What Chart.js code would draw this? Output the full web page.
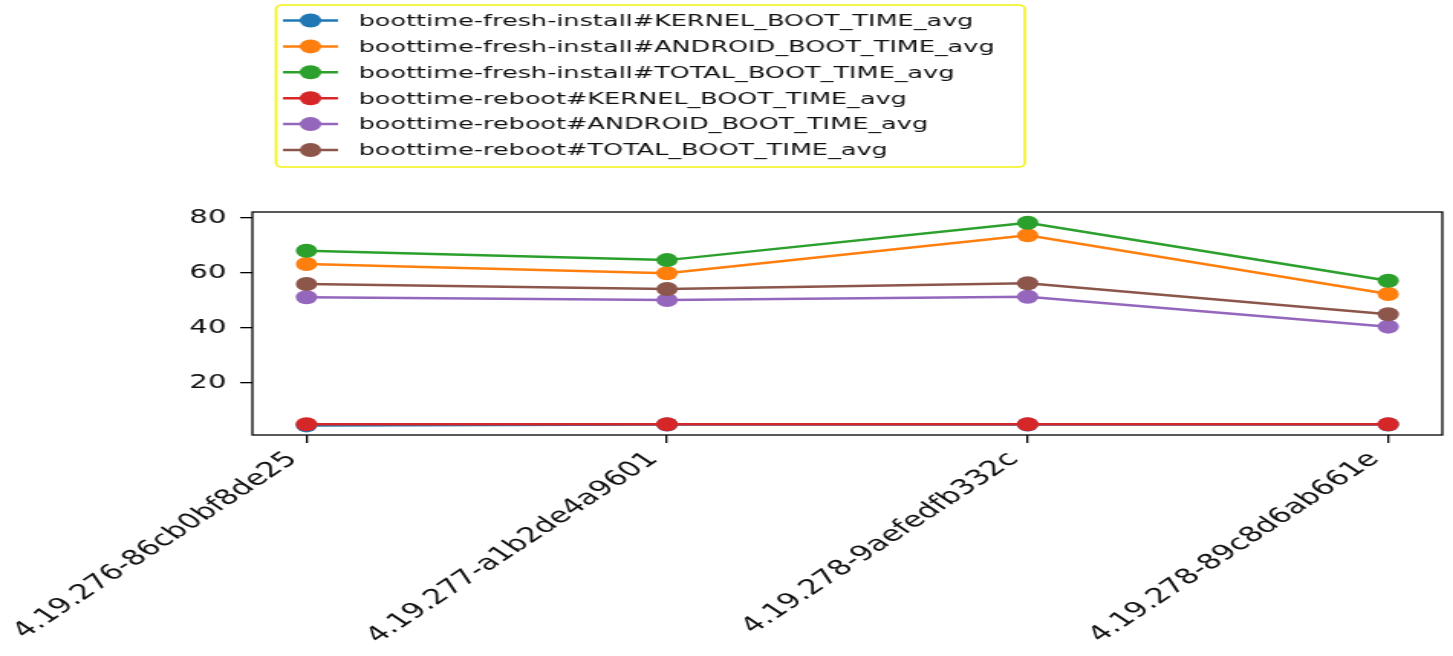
<!DOCTYPE html>
<html>
<head>
<meta charset="utf-8">
<script src="https://cdn.jsdelivr.net/npm/chart.js@4/dist/chart.umd.min.js"></script>
<style>
  html, body { margin: 0; padding: 0; background: #fff; overflow: hidden; }
  /* the reference is stretched sideways, so draw narrow and widen */
  #wrap { width: 950px; height: 656px; transform: scaleX(1.5295); transform-origin: 0 0; }
</style>
</head>
<body>
<div id="wrap"><canvas id="chart"></canvas></div>
<script>
// ============================
// DATA
// ============================
const builds = ["4.19.276-86cb0bf8de25", "4.19.277-a1b2de4a9601", "4.19.278-9aefedfb332c", "4.19.278-89c8d6ab661e"];

const seriesNames = [
  "boottime-fresh-install#KERNEL_BOOT_TIME_avg",
  "boottime-fresh-install#ANDROID_BOOT_TIME_avg",
  "boottime-fresh-install#TOTAL_BOOT_TIME_avg",
  "boottime-reboot#KERNEL_BOOT_TIME_avg",
  "boottime-reboot#ANDROID_BOOT_TIME_avg",
  "boottime-reboot#TOTAL_BOOT_TIME_avg"
];

const freshKernel  = [4.6, 4.9, 4.9, 4.9];
const freshAndroid = [63.3, 59.9, 73.7, 52.4];
const freshTotal   = [68.1, 64.7, 78.3, 57.2];
const rebootKernel = [5.0, 5.0, 5.0, 5.0];
const rebootAndroid = [51.2, 50.2, 51.4, 40.5];
const rebootTotal  = [56.0, 54.2, 56.3, 45.0];

const yTicks = [20, 40, 60, 80];

const colors = ["#1f77b4", "#ff7f0e", "#2ca02c", "#d62728", "#9467bd", "#8c564b"];
const allSeries = [freshKernel, freshAndroid, freshTotal, rebootKernel, rebootAndroid, rebootTotal];

const FONT = "'DejaVu Sans', sans-serif";

// ============================
// PLUGINS
// ============================
// full box round the plot like matplotlib
const frame = {
  id: "frame",
  afterDraw(chart){
    const {ctx, chartArea: a} = chart;
    ctx.save();
    ctx.strokeStyle = "#000";
    ctx.lineWidth = 1.3;
    ctx.strokeRect(a.left, a.top, a.right - a.left, a.bottom - a.top);
    ctx.restore();
  }
};

// legend box in the top margin, one entry per row
const boxLegend = {
  id: "boxLegend",
  afterDraw(chart){
    const ctx = chart.ctx;
    ctx.save();
    ctx.strokeStyle = "#f2f213";
    ctx.lineWidth = 1.6;
    ctx.beginPath();
    ctx.roundRect(180.5, 5, 489.5, 162, 4);
    ctx.stroke();
    ctx.font = "16.7px " + FONT;
    ctx.textBaseline = "middle";
    chart.data.datasets.forEach((ds, i) => {
      const y = 20.5 + i * 25.9;
      ctx.strokeStyle = ds.borderColor;
      ctx.lineWidth = 2.5;
      ctx.beginPath();
      ctx.moveTo(185, y);
      ctx.lineTo(221, y);
      ctx.stroke();
      ctx.fillStyle = ds.borderColor;
      ctx.beginPath();
      ctx.arc(203, y, 7, 0, Math.PI * 2);
      ctx.fill();
      ctx.fillStyle = "#111";
      ctx.fillText(ds.label, 234.5, y + 1);
    });
    ctx.restore();
  }
};

// ============================
// CHART
// ============================
const datasets = allSeries.map((vals, i) => ({
  label: seriesNames[i],
  data: vals.map((v, k) => ({x: k, y: v})),
  borderColor: colors[i],
  backgroundColor: colors[i],
  borderWidth: 2.5,
  pointRadius: 7,
  pointHoverRadius: 7,
  pointBorderWidth: 0,
  tension: 0,
  order: allSeries.length - i   // later series on top
}));

new Chart(document.getElementById("chart"), {
  type: "line",
  data: { datasets },
  options: {
    responsive: true,
    maintainAspectRatio: false,
    animation: false,
    layout: { padding: { left: 0, top: 212, right: 5.6, bottom: 0 } },
    plugins: { legend: { display: false }, tooltip: { enabled: false } },
    scales: {
      x: {
        type: "linear",
        min: -0.15,
        max: 3.15,
        afterBuildTicks: s => { s.ticks = builds.map((_, i) => ({value: i})); },
        afterFit: s => { s.height = 221; },
        border: { display: false },
        grid: { display: true, drawOnChartArea: false, drawTicks: true, tickLength: 8, color: "#000", lineWidth: 1.3 },
        ticks: {
          autoSkip: false,
          minRotation: 45,
          maxRotation: 45,
          padding: 4,
          labelOffset: -9,
          color: "#111",
          font: { family: FONT, size: 21 },
          callback: v => builds[v]
        }
      },
      y: {
        min: 1.1,
        max: 82.2,
        afterBuildTicks: s => { s.ticks = yTicks.map(v => ({value: v})); },
        afterFit: s => { s.width = 165; },
        border: { display: false },
        grid: { display: true, drawOnChartArea: false, drawTicks: true, tickLength: 8, color: "#000", lineWidth: 1.3 },
        ticks: {
          padding: 9,
          color: "#111",
          font: { family: FONT, size: 19 }
        }
      }
    }
  },
  plugins: [frame, boxLegend]
});
</script>
</body>
</html>
